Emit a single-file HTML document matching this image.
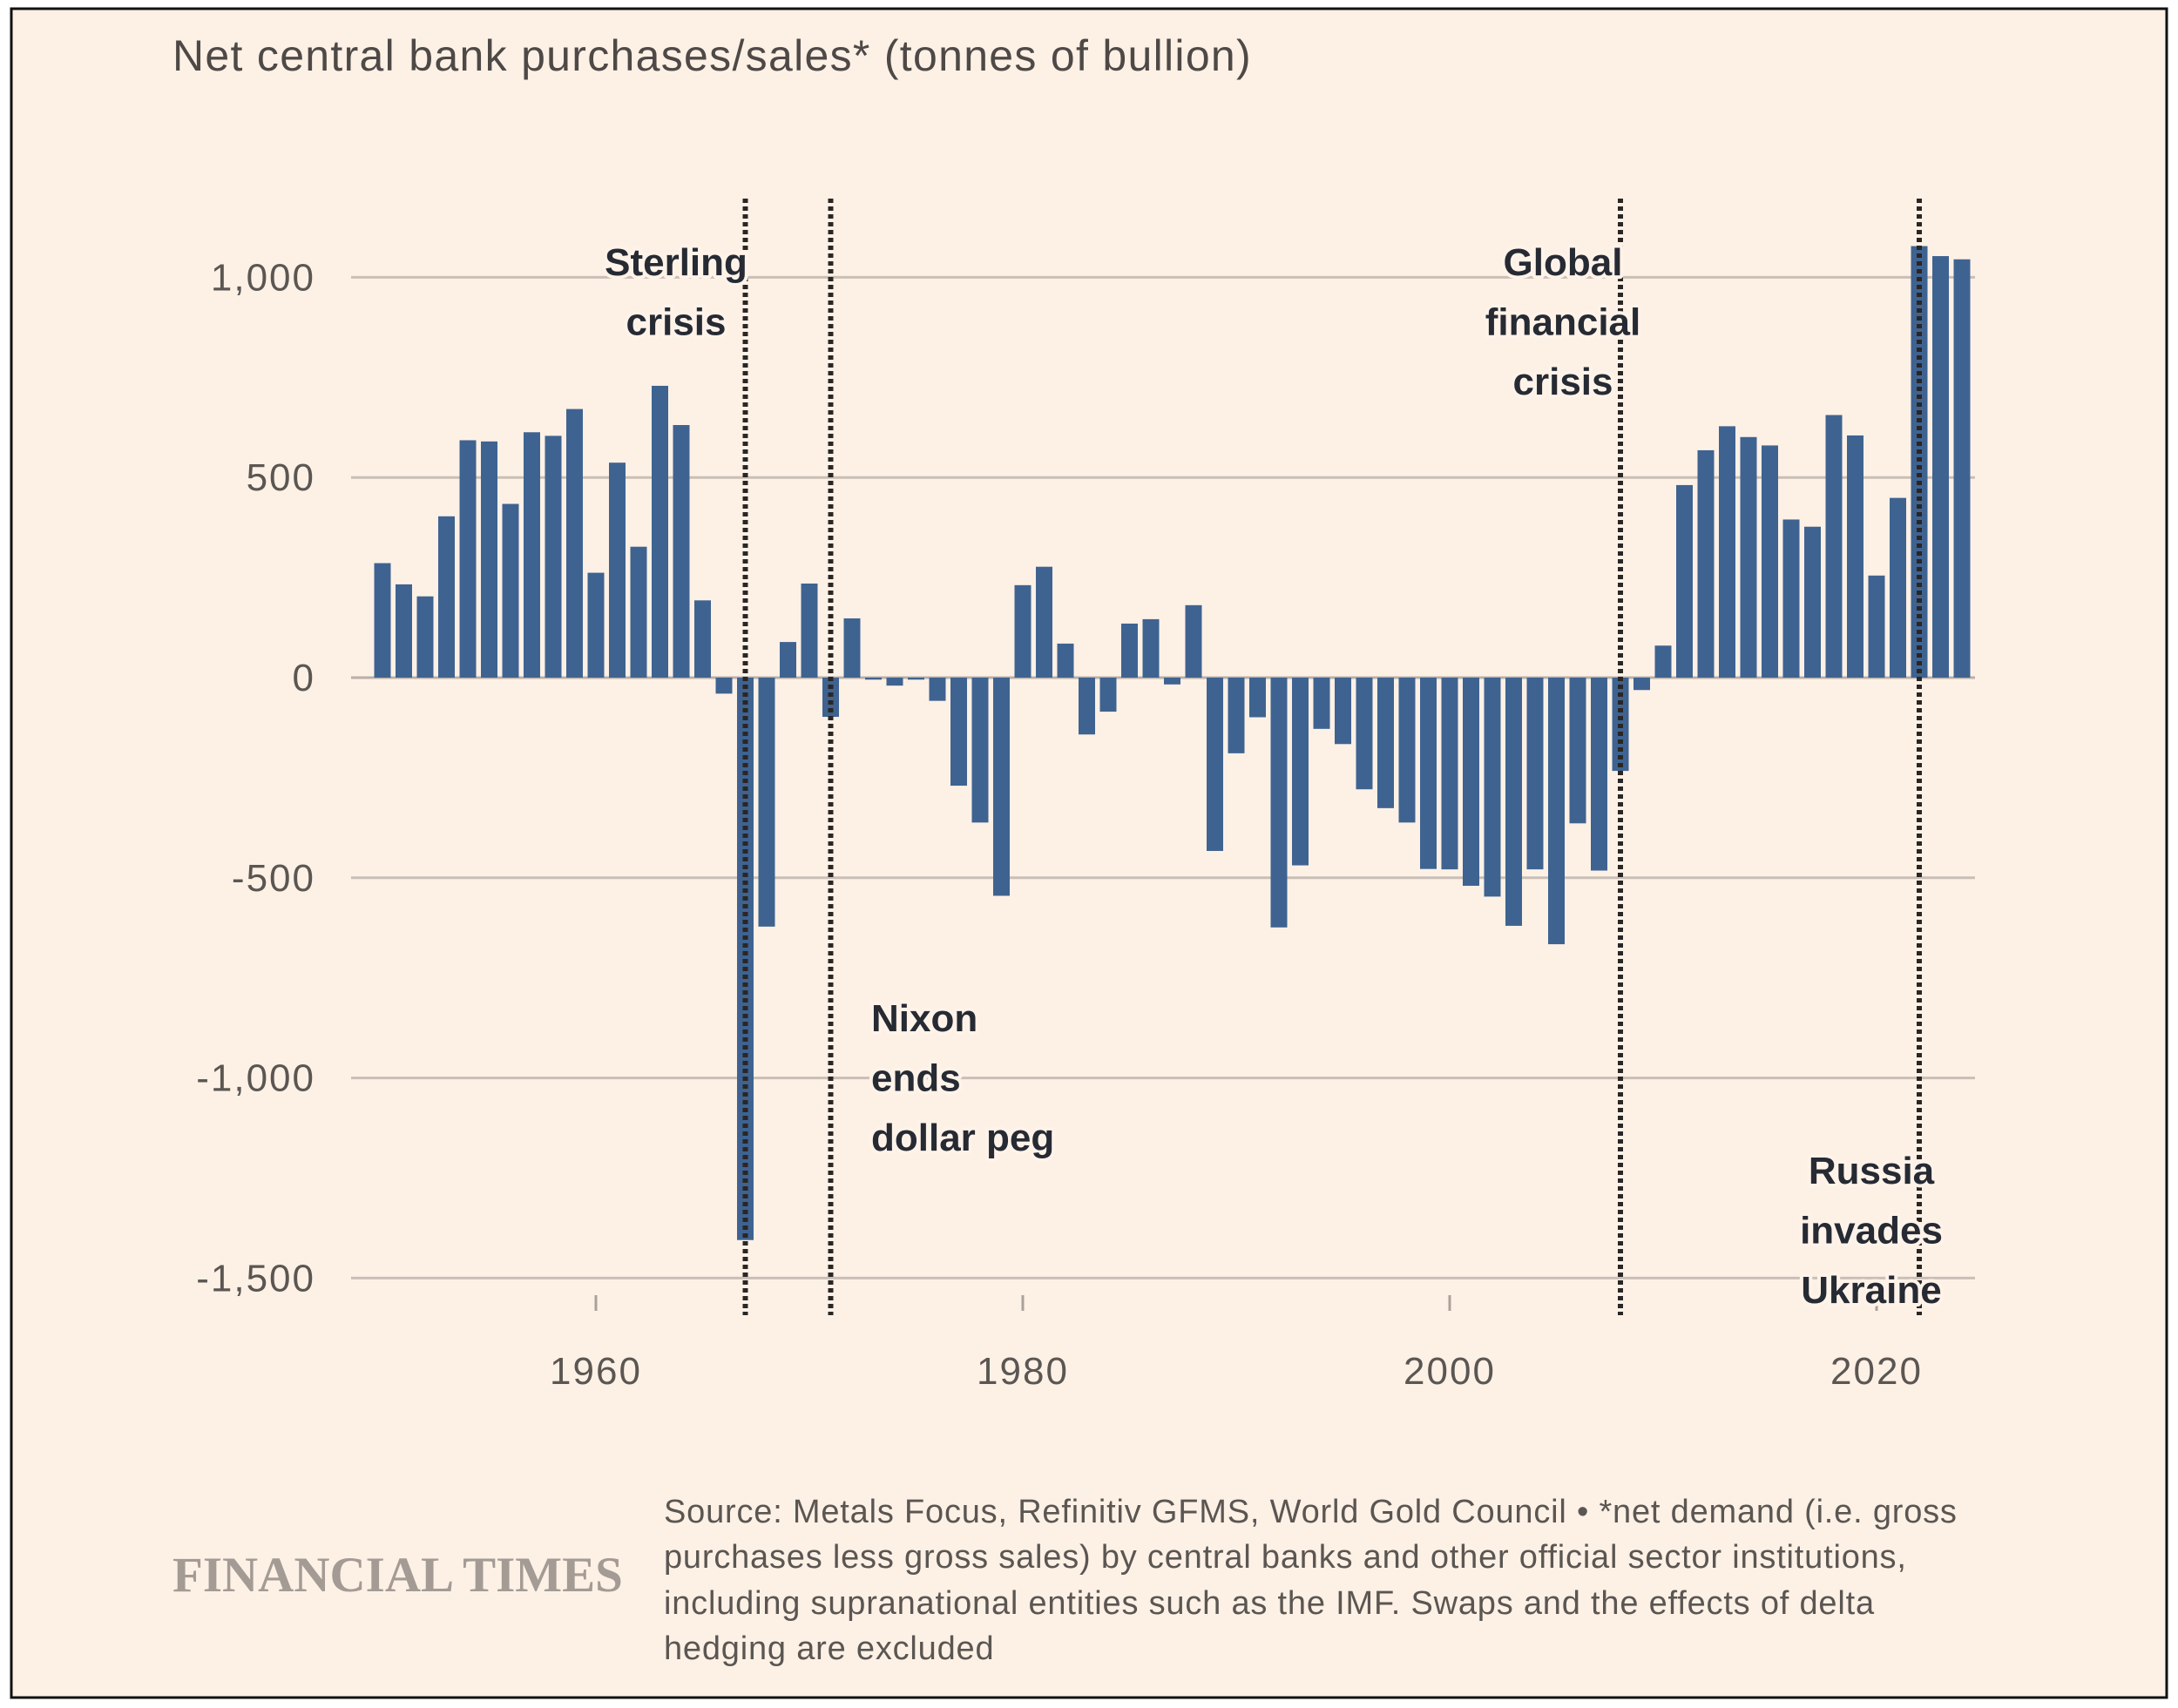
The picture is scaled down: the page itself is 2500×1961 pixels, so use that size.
<!DOCTYPE html>
<html><head><meta charset="utf-8"><style>
html,body{margin:0;padding:0;background:#fff;}
svg{display:block;font-family:"Liberation Sans",sans-serif;}
.ann{font-weight:bold;font-size:44px;fill:#262a33;paint-order:stroke;stroke:#fff3e9;stroke-width:8px;stroke-linejoin:round;}
</style></head><body>
<svg id="chart" width="2500" height="1961" viewBox="0 0 2500 1961" xmlns="http://www.w3.org/2000/svg">
<rect x="13" y="10" width="2474" height="1939" fill="#fdf1e6" stroke="#111" stroke-width="3"/>
<text x="198" y="81" font-size="50" letter-spacing="1.3" fill="#4e4946">Net central bank purchases/sales* (tonnes of bullion)</text>
<g id="grid"></g><g id="bars"></g><g id="events"></g>
<text x="198" y="1827" font-family="Liberation Serif,serif" font-weight="bold" font-size="57" fill="#a39b94">FINANCIAL TIMES</text>
<g font-size="38" letter-spacing="0.8" fill="#5b5652">
<text x="762" y="1748">Source: Metals Focus, Refinitiv GFMS, World Gold Council • *net demand (i.e. gross</text>
<text x="762" y="1800">purchases less gross sales) by central banks and other official sector institutions,</text>
<text x="762" y="1853">including supranational entities such as the IMF. Swaps and the effects of delta</text>
<text x="762" y="1905">hedging are excluded</text>
</g>
</svg>
<script>
const years = [];
for (let y = 1950; y <= 2024; y++) years.push(y);
const values = [286,233,203,403,593,590,434,613,604,671,262,537,327,729,631,193,-40,-1405,-622,89,235,-98,148,-5,-20,-5,-58,-270,-362,-545,231,277,85,-142,-85,135,146,-17,181,-433,-189,-99,-624,-469,-128,-166,-279,-326,-362,-478,-479,-520,-547,-620,-479,-666,-364,-482,-233,-31,80,481,568,628,601,580,395,377,656,605,255,449,1078,1053,1045];
const yTicks = [1000,500,0,-500,-1000,-1500];
const yTickLabels = ["1,000","500","0","-500","-1,000","-1,500"];
const xTicks = [1960,1980,2000,2020];
const events = [1967,1971,2008,2022];
const eventLabels = [["Sterling","crisis"],["Nixon","ends","dollar peg"],["Global","financial","crisis"],["Russia","invades","Ukraine"]];

const NS="http://www.w3.org/2000/svg";
const X = yr => 684 + (yr-1960)*24.5;
const Y = v => 778 - v*0.4596;
function mk(tag, attrs, parent, txt){const e=document.createElementNS(NS,tag);for(const k in attrs)e.setAttribute(k,attrs[k]);if(txt!==undefined)e.textContent=txt;parent.appendChild(e);return e;}
const grid=document.getElementById('grid'), bars=document.getElementById('bars'), ev=document.getElementById('events');
yTicks.forEach((t,i)=>{
  const l=mk('line',{x1:403,x2:2267,y1:Y(t),y2:Y(t),stroke:t===0?'#b9b0a8':'#c9bfb6','stroke-width':3},grid);
  
  
  const tx=mk('text',{x:362,y:Y(t)+15,'text-anchor':'end','font-size':44,'letter-spacing':2,fill:'#5b5652'},grid,yTickLabels[i]);
  
  
});
xTicks.forEach(t=>{
  const l=mk('line',{x1:X(t),x2:X(t),y1:1487,y2:1505,stroke:'#aaa29a','stroke-width':3},grid);
  
  
  const tx=mk('text',{x:X(t),y:1589,'text-anchor':'middle','font-size':44,'letter-spacing':2,fill:'#5b5652'},grid,String(t));
  
  
});
years.forEach((yr,i)=>{
  const v=values[i]; const y0=Y(0), y1=Y(v);
  const r=mk('rect',{x:X(yr)-9.5,width:19,y:Math.min(y0,y1),height:Math.max(1.5,Math.abs(y1-y0)),fill:'#3f6391'},bars);
  
  
});
const labelPos=[{x:776,y:301,a:'middle'},{x:1000,y:1169,a:'start'},{x:1794,y:301,a:'middle'},{x:2148,y:1344,a:'middle'}];
events.forEach((yr,i)=>{
  const l=mk('line',{x1:X(yr),x2:X(yr),y1:228,y2:1510,stroke:'#2a2624','stroke-width':6,'stroke-dasharray':'5 4'},ev);
  
  
});
events.forEach((yr,i)=>{
  const p=labelPos[i];
  const t=mk('text',{x:p.x,y:p.y+15,'text-anchor':p.a,class:'ann'},ev);
  
  
  eventLabels[i].forEach((s,j)=>{mk('tspan',{x:p.x,dy:j===0?0:68.5},t,s);});
});
</script>
</body></html>
